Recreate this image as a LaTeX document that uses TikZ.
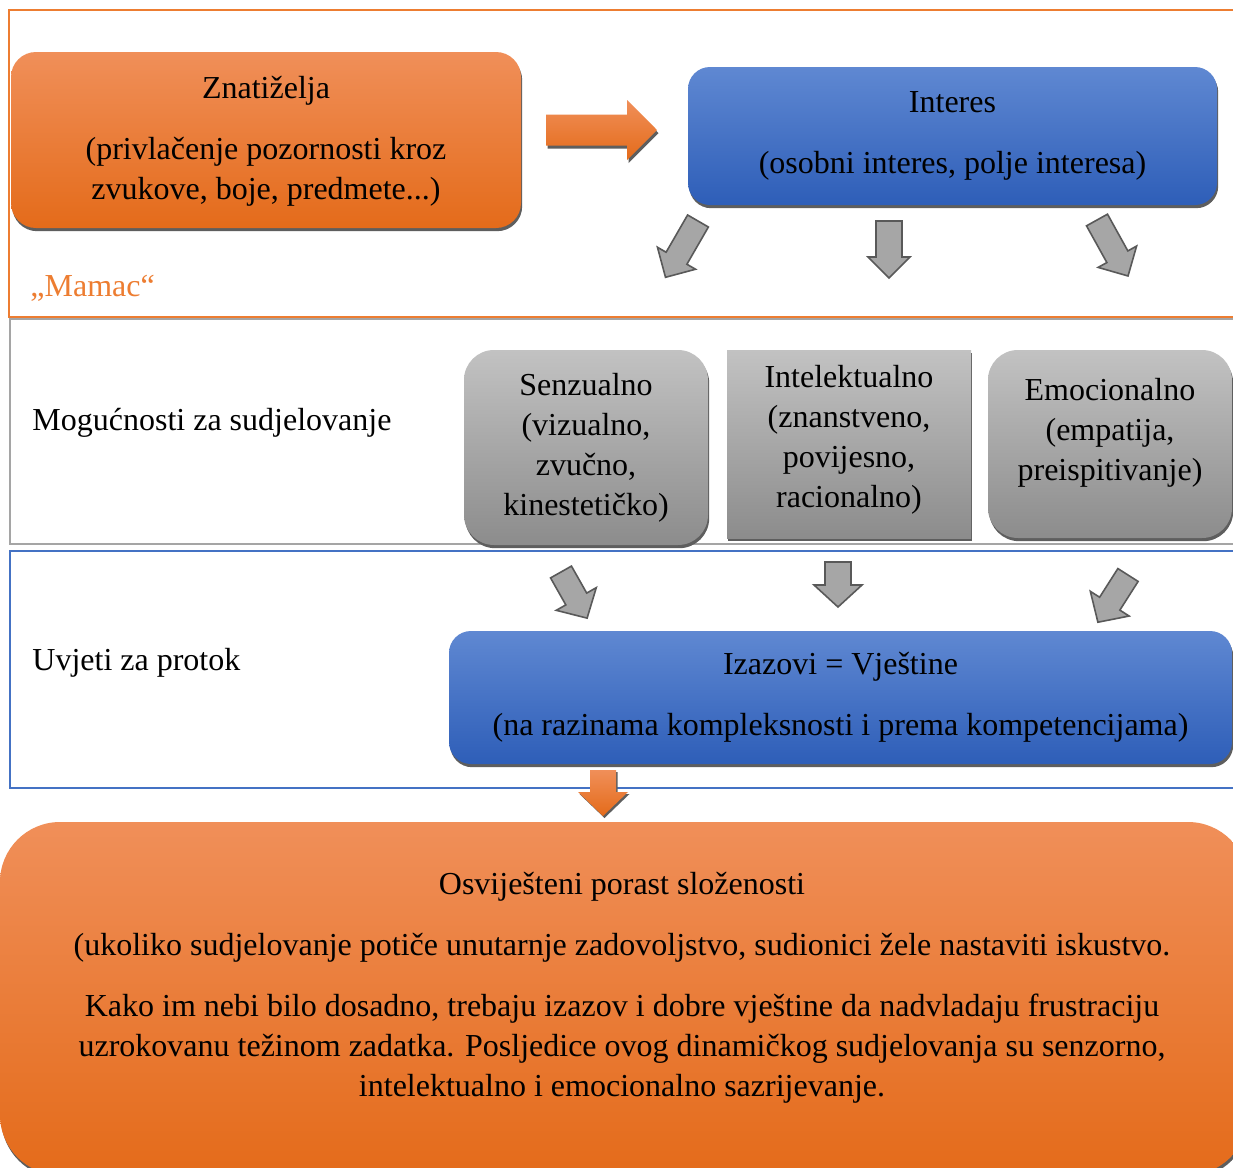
\documentclass[tikz,border=0pt]{standalone}
\usepackage{fontspec}
\setmainfont{Liberation Serif}
\usetikzlibrary{shadows}
\definecolor{frameorange}{HTML}{ED7D31}
\definecolor{framegray}{HTML}{A5A5A5}
\definecolor{frameblue}{HTML}{4472C4}
\definecolor{orTop}{HTML}{F08F59}
\definecolor{orBot}{HTML}{E46B1A}
\definecolor{blTop}{HTML}{5F88D2}
\definecolor{blBot}{HTML}{2E5EB8}
\definecolor{grTop}{HTML}{C2C2C2}
\definecolor{grBot}{HTML}{8C8C8C}
\definecolor{arrGray}{HTML}{A6A6A6}
\definecolor{arrEdge}{HTML}{595959}
\definecolor{arrOrange}{HTML}{EE7D31}
\definecolor{shadowc}{HTML}{5E5E5E}

\tikzset{
  txt/.style={font=\fontsize{16pt}{20pt}\selectfont, inner sep=0pt, align=center},
  boxsh/.style={drop shadow={shadow xshift=0.6pt, shadow yshift=-1.6pt, fill=shadowc, opacity=1}},
  orbox/.style={boxsh, top color=orTop, bottom color=orBot, draw=none, txt},
  blbox/.style={boxsh, top color=blTop, bottom color=blBot, draw=none, txt},
  grbox/.style={boxsh, top color=grTop, bottom color=grBot, draw=none, txt},
  frame/.style={line width=1pt},
  grayarr/.style={fill=arrGray, draw=arrEdge, line width=0.8pt, line join=miter},
  orarr/.style={top color=orTop, bottom color=orBot, draw=none},
  arrshadow/.style={fill=shadowc, draw=none},
}

% #1 name of tip coordinate, #2 tail point, #3 angle, #4 length,
% #5 shaft width, #6 head width, #7 head length, #8 style
\newcommand{\blockarrow}[8]{%
  \begin{scope}[shift={#2}, rotate=#3]
    \path[#8] (0,{-#5/2}) -- ({#4-#7},{-#5/2}) -- ({#4-#7},{-#6/2}) -- (#4,0)
      -- ({#4-#7},{#6/2}) -- ({#4-#7},{#5/2}) -- (0,{#5/2}) -- cycle;
    \coordinate (#1) at (#4,0);
  \end{scope}}

\begin{document}
\begin{tikzpicture}[x=0.5pt,y=-0.5pt]
  \useasboundingbox (0,0) rectangle (1233,1168);
  \fill[white] (0,0) rectangle (1233,1168);
  \clip (0,0) rectangle (1233,1168);

  % frames
  \draw[frame, frameorange] (9,10) rectangle (1260,317);
  \draw[frame, framegray] (10,319) rectangle (1260,544);
  \draw[frame, frameblue] (10,551) rectangle (1260,788);

  % top row
  \node[orbox, minimum width=255pt, minimum height=88pt, rounded corners=12.5pt] (znat) at (266,140)
    {};
  \node[txt] (znatT) at (266,141.5)
    {Znatiželja\\[10.5pt](privlačenje pozornosti kroz\\zvukove, boje, predmete...)};
  \node[blbox, minimum width=264.5pt, minimum height=69pt, rounded corners=11pt] (inter) at (952.5,136)
    {Interes\\[10.5pt](osobni interes, polje interesa)};

  \blockarrow{ra-s}{(547.5,133)}{0}{111}{31}{60}{30}{arrshadow}
  \blockarrow{ra}{(546,130)}{0}{111}{31}{60}{30}{orarr}

  \node[txt, anchor=base west, text=frameorange] (mamac) at (30,296) {„Mamac“};

  % gray arrows from Interes
  \blockarrow{g1}{(698,221)}{240}{65}{24}{44}{22}{grayarr}
  \blockarrow{g2}{(889,221)}{-90}{57}{26}{42}{21}{grayarr}
  \blockarrow{g3}{(1097,220)}{-61}{64}{24}{44}{22}{grayarr}

  % second row
  \node[txt, anchor=base west] (mog) at (32,430) {Mogućnosti za sudjelovanje};
  \node[grbox, minimum width=122pt, minimum height=97.5pt, rounded corners=15pt] (senz) at (586,447.5)
    {Senzualno\\(vizualno,\\zvučno,\\kinestetičko)};
  \node[grbox, minimum width=122pt, minimum height=94pt] (intel) at (849,444) {};
  \node[txt] (intelT) at (849,440) {Intelektualno\\(znanstveno,\\povijesno,\\racionalno)};
  \node[grbox, minimum width=122pt, minimum height=94pt, rounded corners=15pt] (emo) at (1110,444) {};
  \node[txt] (emoT) at (1110,432.5) {Emocionalno\\(empatija,\\preispitivanje)};

  % gray arrows to Izazovi
  \blockarrow{h1}{(561,572)}{-60.5}{53}{24}{46}{22}{grayarr}
  \blockarrow{h2}{(838,562)}{-90}{45}{26}{48}{22}{grayarr}
  \blockarrow{h3}{(1128,575)}{-122.5}{56}{24}{46}{22}{grayarr}

  % third row
  \node[txt, anchor=base west] (uvj) at (32,670) {Uvjeti za protok};
  \node[blbox, minimum width=391.5pt, minimum height=66.5pt, rounded corners=11pt] (izaz) at (840.5,697.5)
    {Izazovi = Vještine\\[10.5pt](na razinama kompleksnosti i prema kompetencijama)};

  \blockarrow{da-s}{(604.5,772)}{-90}{46}{26}{50}{24}{arrshadow}
  \blockarrow{da}{(603,770)}{-90}{46}{26}{50}{24}{orarr}

  % bottom box
  \node[orbox, minimum width=624pt, minimum height=176.5pt, rounded corners=30pt] (osv) at (624,998.5) {};
  \node[txt] (osvT) at (622,988)
    {Osviješteni porast složenosti\\[10.5pt]
     (ukoliko sudjelovanje potiče unutarnje zadovoljstvo, sudionici žele nastaviti iskustvo.\\[10.5pt]
     Kako im nebi bilo dosadno, trebaju izazov i dobre vještine da nadvladaju frustraciju\\
     uzrokovanu težinom zadatka. Posljedice ovog dinamičkog sudjelovanja su senzorno,\\
     intelektualno i emocionalno sazrijevanje.};
\end{tikzpicture}
\end{document}
